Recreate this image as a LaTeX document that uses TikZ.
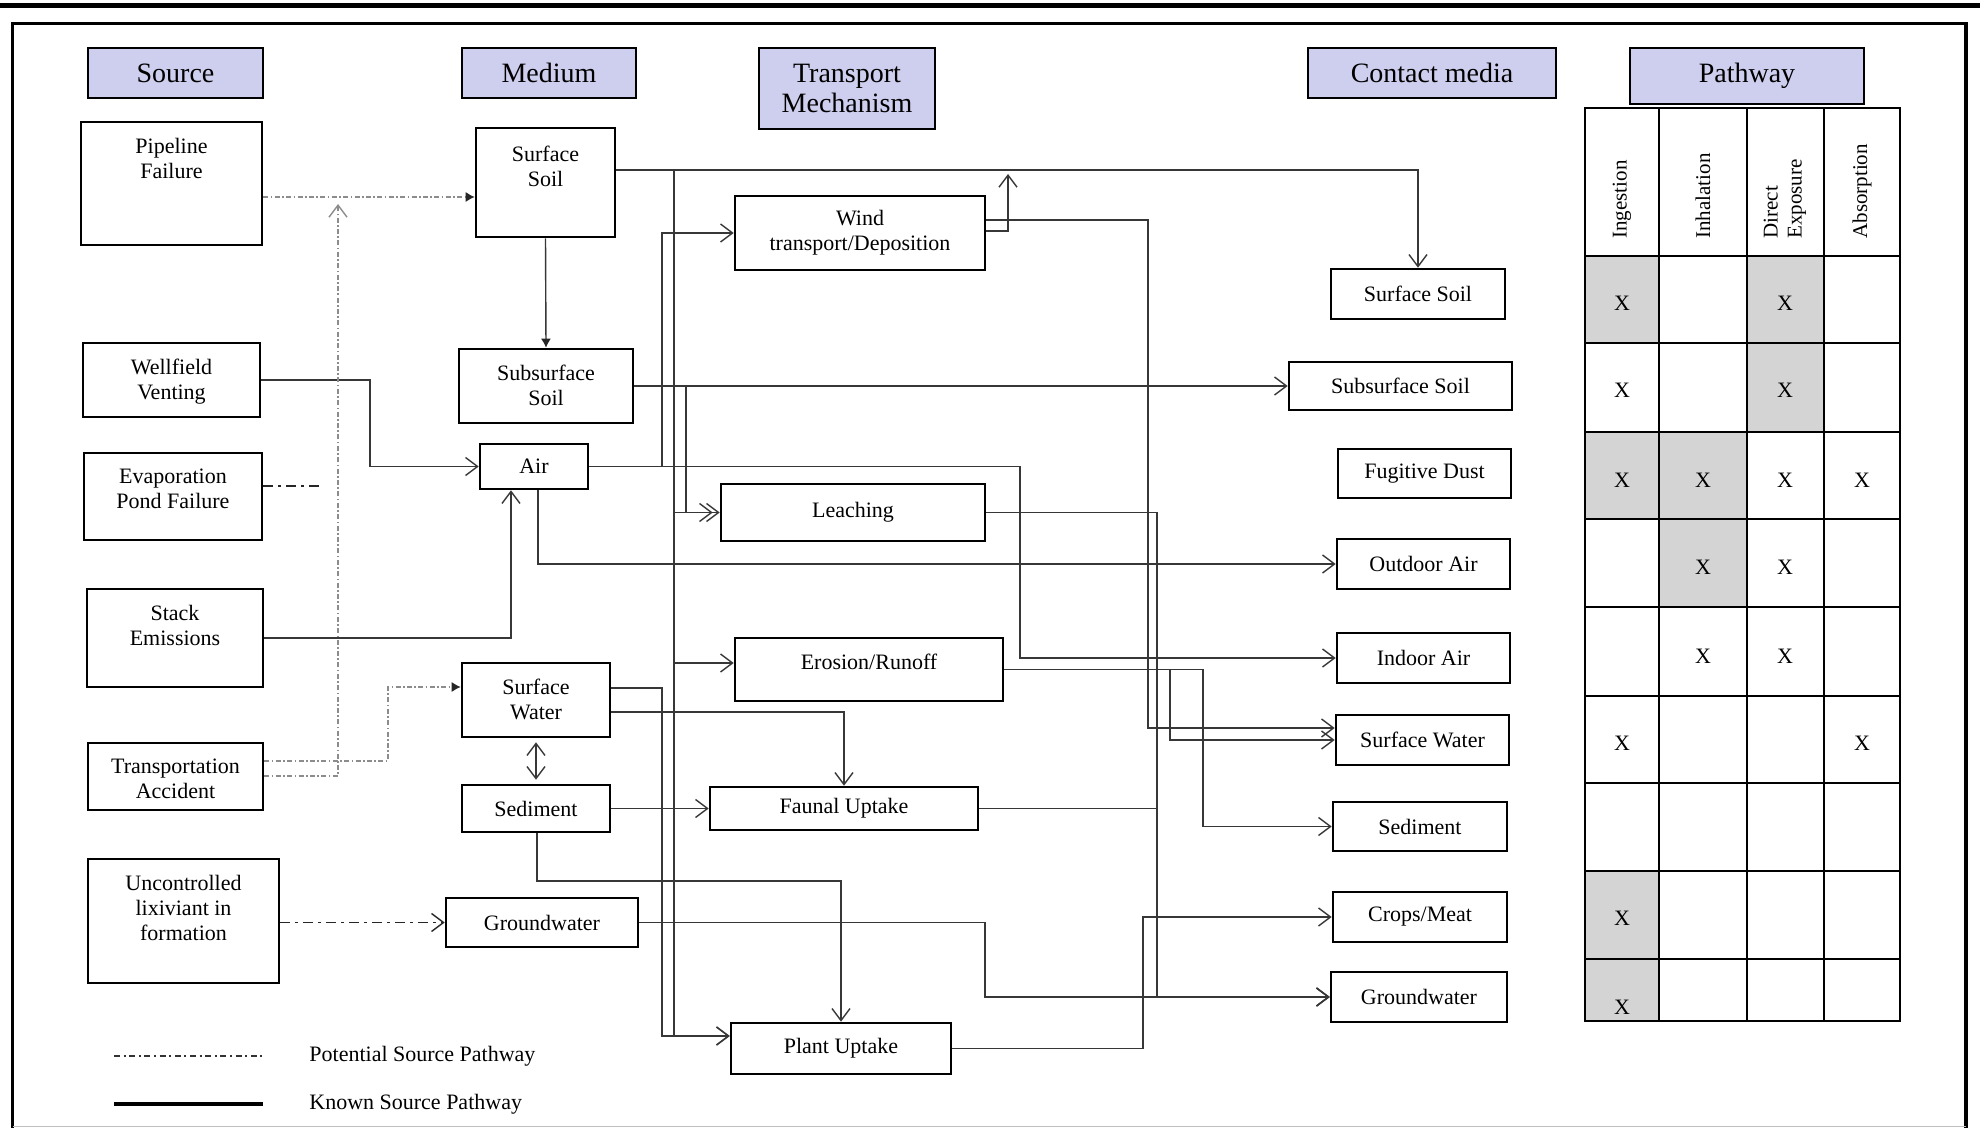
\documentclass[tikz,border=0pt]{standalone}
\usepackage{fontspec}
\setmainfont{Liberation Serif}
\usetikzlibrary{arrows.meta}
\definecolor{headfill}{RGB}{206,206,238}
\definecolor{wire}{RGB}{55,55,55}
\definecolor{cellgray}{RGB}{212,212,212}
\newcommand\boxfont{\fontsize{11}{12.5}\selectfont}
\newcommand\headfont{\fontsize{14}{15}\selectfont}
\newcommand\colfont{\fontsize{10.5}{12}\selectfont}

\begin{document}
\begin{tikzpicture}[x=0.5pt,y=-0.5pt,
  sz/.style 2 args={minimum width=#1*0.5pt,minimum height=#2*0.5pt},
  box/.style={draw=black,line width=1.3pt,inner sep=0pt,align=center,font=\boxfont},
  head/.style={box,fill=headfill,font=\headfont},
  toptext/.style={anchor=north,inner sep=0pt,align=center,font=\boxfont,yshift=-8.5pt},
  known/.style={draw=wire,line width=0.7pt},
  arr/.style={-{Straight Barb[length=6pt,width=9pt,line width=0.7pt]}},
  dartk/.style={-{Latex[length=4.5pt,width=5pt,color=black!85]}},
  pot/.style={draw=black!45,line width=0.6pt,dash pattern=on 2.5pt off 1.2pt on 0.8pt off 1.2pt},
  potdark/.style={draw=black!85,line width=0.9pt,dash pattern=on 5pt off 2.5pt on 1.5pt off 2.5pt},
  potleg/.style={draw=black!80,line width=0.8pt,dash pattern=on 3pt off 1.8pt on 1pt off 1.8pt},
  tablegrid/.style={draw=black,line width=1pt},
  xmark/.style={inner sep=0pt,font=\boxfont},
  colhead/.style={rotate=90,anchor=west,inner sep=0pt,align=left,font=\colfont},
]
\useasboundingbox (0,0) rectangle (1980,1128);

% page rule and frame
\fill[black] (0,3.5) rectangle (1980,8.5);
\draw[black,line width=1.8pt] (12.5,1128) -- (12.5,23.5) -- (1966,23.5) -- (1966,1128);
\draw[black!25,line width=0.8pt] (12.5,1126.5) -- (1966,1126.5);

% column headers
\node[head,sz={175}{50}] (hsrc) at (175.5,73) {Source};
\node[head,sz={174}{50}] (hmed) at (549,73) {Medium};
\node[head,sz={176}{81}] (htr) at (847,88.5) {Transport\\Mechanism};
\node[head,sz={248}{50}] (hcon) at (1432,73) {Contact media};
\node[head,sz={234}{56}] (hpath) at (1747,76) {Pathway};

% sources
\node[box,sz={181}{123},label={[toptext]north:Pipeline\\Failure}] (pipe) at (171.5,183.5) {};
\node[box,sz={177}{74},label={[toptext]north:Wellfield\\Venting}] (well) at (171.5,380) {};
\node[box,sz={178}{87},label={[toptext]north:Evaporation\\Pond Failure}] (evap) at (173,496.5) {};
\node[box,sz={176}{98},label={[toptext]north:Stack\\Emissions}] (stack) at (175,638) {};
\node[box,sz={175}{67},label={[toptext]north:Transportation\\Accident}] (trans) at (175.5,776.5) {};
\node[box,sz={191}{124},label={[toptext]north:Uncontrolled\\lixiviant in\\formation}] (uncon) at (183.5,921) {};

% media
\node[box,sz={139}{109},label={[toptext,yshift=-1pt]north:Surface\\Soil}] (mss) at (545.5,182.5) {};
\node[box,sz={174}{74},label={[toptext]north:Subsurface\\Soil}] (msub) at (546,386) {};
\node[box,sz={108}{45}] (mair) at (534,466.5) {Air};
\node[box,sz={148}{74},label={[toptext]north:Surface\\Water}] (msw) at (536,700) {};
\node[box,sz={148}{47}] (msed) at (536,808.5) {Sediment};
\node[box,sz={192}{49}] (mgw) at (542,922.5) {Groundwater};

% transport mechanisms
\node[box,sz={250}{74}] (wind) at (860,233) {Wind\\transport/Deposition};
\node[box,sz={264}{57}] (leach) at (853,512.5) {Leaching};
\node[box,sz={268}{63},label={[toptext]north:Erosion/Runoff}] (eros) at (869,669.5) {};
\node[box,sz={268}{43}] (faun) at (844,808.5) {Faunal Uptake};
\node[box,sz={220}{51}] (plant) at (841,1048.5) {Plant Uptake};

% contact media
\node[box,sz={174}{50}] (css) at (1418,294) {Surface Soil};
\node[box,sz={223}{48}] (csub) at (1400.5,386) {Subsurface Soil};
\node[box,sz={173}{49}] (cdust) at (1424.5,473.5) {Fugitive Dust};
\node[box,sz={173}{50}] (cout) at (1423.5,564) {Outdoor Air};
\node[box,sz={173}{50}] (cin) at (1423.5,658) {Indoor Air};
\node[box,sz={173}{50}] (csw) at (1422.5,740) {Surface Water};
\node[box,sz={174}{49}] (csed) at (1420,826.5) {Sediment};
\node[box,sz={174}{50}] (ccrop) at (1420,917) {Crops/Meat};
\node[box,sz={176}{50}] (cgw) at (1419,997) {Groundwater};

% pathway table
\fill[cellgray] (1585,256) rectangle (1659,343);
\fill[cellgray] (1747,256) rectangle (1823.5,432);
\fill[cellgray] (1585,432) rectangle (1747,519);
\fill[cellgray] (1659,519) rectangle (1747,607);
\fill[cellgray] (1585,871) rectangle (1659,1021);
\draw[tablegrid] (1585,108) rectangle (1900,1021);
\foreach \xv in {1659,1747,1823.5} \draw[tablegrid] (\xv,108) -- (\xv,1021);
\foreach \yv in {256,343,432,519,607,696,783,871,959} \draw[tablegrid] (1585,\yv) -- (1900,\yv);
\node[colhead] (pIng) at (1622,239) {Ingestion};
\node[colhead] (pInh) at (1703,239) {Inhalation};
\node[colhead] (pDir) at (1785,239) {Direct\\Exposure};
\node[colhead] (pAbs) at (1862,239) {Absorption};
\foreach \n/\xv/\yv in {a/1622/303,b/1785/303,c/1622/390,d/1785/390,e/1622/480,f/1703/480,g/1785/480,h/1862/480,i/1703/567,j/1785/567,k/1703/656,l/1785/656,m/1622/743,n/1862/743,o/1622/918,p/1622/1007}
  \node[xmark] (x\n) at (\xv,\yv) {X};

% known pathways
\draw[known,arr] (well.east) -- (370,380) |- (mair.west);
\draw[known,arr] (stack.east) -| (mair.south-|511,0);
\draw[known,dartk] (mss.south) -- (msub.north);
\draw[known,{Straight Barb[length=6pt,width=9pt,line width=0.7pt]}-{Straight Barb[length=6pt,width=9pt,line width=0.7pt]},shorten <=2pt,shorten >=2pt] (msw.south) -- (msed.north);
\draw[known,arr] (mss.east|-0,170) -| (css.north);
\draw[known,arr] (mss.east|-0,170) -| (674,1036) -- (plant.west|-0,1036);
\draw[known,arr] (mss.east|-0,170) -| (674,512.5) -- (leach.west);
\draw[known,arr] (mss.east|-0,170) -| (674,663) -- (eros.west|-0,663);
\draw[known,arr] (msub.east) -- (csub.west);
\draw[known,arr,shorten >=3.5pt] (msub.east) -| (686,512.5) -- (leach.west);
\draw[known,arr] (mair.east) -| (662,233) -- (wind.west);
\draw[known,arr] (mair.east) -| (1020,658) -- (cin.west);
\draw[known,arr] (mair.south-|538,0) |- (cout.west);
\draw[known,arr] (msw.east|-0,688) -| (662,1036) -- (plant.west|-0,1036);
\draw[known,arr] (msw.east|-0,712) -| (faun.north);
\draw[known,arr] (msed.east) -- (faun.west);
\draw[known,arr] (msed.south-|537,0) |- (841,881) -- (plant.north);
\draw[known,arr] (mgw.east) -| (985,997) -- (cgw.west);
\draw[known,arr] (wind.east|-0,220) -| (1148,728) -- (csw.west|-0,728);
\coordinate (dep) at (1008,174);
\draw[known,arr] (wind.east|-0,231) -| (dep);
\draw[known,arr] (leach.east) -| (1157,997) -- (cgw.west);
\draw[known,arr] (faun.east) -| (1157,997) -- (cgw.west);
\draw[known,arr] (plant.east) -| (1143,917) -- (ccrop.west);
\draw[known,arr] (eros.east) -| (1170,740) -- (csw.west);
\draw[known,arr] (eros.east) -| (1203,826.5) -- (csed.west);

% potential pathways
\draw[pot,dartk] (pipe.east|-0,197) -- (mss.west|-0,197);
\coordinate (mergeP) at (338,204);
\draw[pot,arr] (trans.east|-0,776) -| (mergeP);
\draw[pot,dartk] (trans.east|-0,761) -| (388,687) -- (msw.west|-0,687);
\coordinate (evapEnd) at (324,486);
\draw[potdark] (evap.east|-0,486) -- (evapEnd);
\draw[potdark,arr] (uncon.east|-0,922.5) -- (mgw.west);

% legend
\coordinate (lgA1) at (114,1056);
\coordinate (lgA2) at (263,1056);
\coordinate (lgB1) at (114,1104);
\coordinate (lgB2) at (263,1104);
\draw[potleg] (lgA1) -- (lgA2);
\draw[black,line width=1.6pt] (lgB1) -- (lgB2);
\node[anchor=west,inner sep=0pt,font=\boxfont] (lgAtext) at (309,1056) {Potential Source Pathway};
\node[anchor=west,inner sep=0pt,font=\boxfont] (lgBtext) at (309,1104) {Known Source Pathway};
\end{tikzpicture}
\end{document}
